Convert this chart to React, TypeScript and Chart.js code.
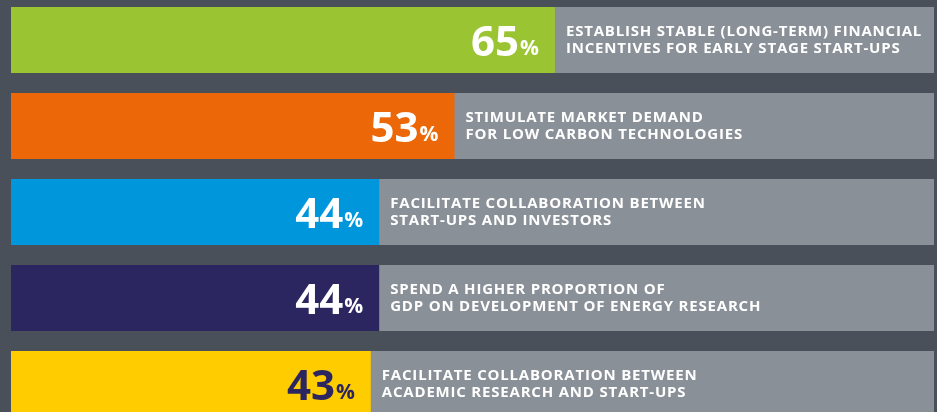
import React, { useEffect, useRef } from "react";
import { Chart, registerables } from "chart.js";

Chart.register(...registerables);

const categories: string[][] = [
  ["ESTABLISH STABLE (LONG-TERM) FINANCIAL", "INCENTIVES FOR EARLY STAGE START-UPS"],
  ["STIMULATE MARKET DEMAND", "FOR LOW CARBON TECHNOLOGIES"],
  ["FACILITATE COLLABORATION BETWEEN", "START-UPS AND INVESTORS"],
  ["SPEND A HIGHER PROPORTION OF", "GDP ON DEVELOPMENT OF ENERGY RESEARCH"],
  ["FACILITATE COLLABORATION BETWEEN", "ACADEMIC RESEARCH AND START-UPS"],
];
const values: number[] = [65, 53, 44, 44, 43];
const barColors: string[] = ["#9bc433", "#ec6707", "#0096db", "#2b2660", "#ffcc00"];
const numberColors: string[] = ["#ffffff", "#ffffff", "#ffffff", "#ffffff", "#2b2660"];
const AXIS_MAX = 110.3;
const track: number[] = [AXIS_MAX, AXIS_MAX, AXIS_MAX, AXIS_MAX, AXIS_MAX];

const BG = "#4a5059";
const TRACK = "#8a9097";

const labelPlugin = {
  id: "labels",
  afterDatasetsDraw(chart: any) {
    const ctx = chart.ctx;
    const meta = chart.getDatasetMeta(0);
    meta.data.forEach((bar: any, i: number) => {
      const xEnd = bar.x;
      const yc = bar.y;
      ctx.save();
      ctx.textBaseline = "alphabetic";
      ctx.fillStyle = numberColors[i];
      ctx.font = "bold 21px 'Open Sans'";
      const pct = "%";
      const pw = ctx.measureText(pct).width;
      ctx.textAlign = "right";
      ctx.fillText(pct, xEnd - 16, yc + 15);
      ctx.font = "bold 42px 'Open Sans'";
      ctx.fillText(String(values[i]), xEnd - 16 - pw - 1, yc + 16);
      ctx.fillStyle = "#ffffff";
      ctx.textAlign = "left";
      ctx.font = "bold 15px 'Open Sans'";
      (ctx as any).letterSpacing = "0.8px";
      const lines = categories[i];
      ctx.fillText(lines[0], xEnd + 11, yc - 4);
      ctx.fillText(lines[1], xEnd + 11, yc + 13);
      ctx.restore();
    });
  },
};

export default function App() {
  const ref = useRef<HTMLCanvasElement | null>(null);
  useEffect(() => {
    if (!ref.current) return;
    const chart = new Chart(ref.current, {
      type: "bar",
      data: {
        labels: categories.map((c) => c.join(" ")),
        datasets: [
          {
            data: values,
            backgroundColor: barColors,
            grouped: false,
            barPercentage: 1,
            categoryPercentage: 66 / 86,
            borderWidth: 0,
          },
          {
            data: track,
            backgroundColor: TRACK,
            grouped: false,
            barPercentage: 1,
            categoryPercentage: 66 / 86,
            borderWidth: 0,
          },
        ],
      },
      options: {
        indexAxis: "y",
        animation: false,
        responsive: false,
        maintainAspectRatio: false,
        layout: { padding: { left: 11, right: 3, top: 0, bottom: 0 } },
        plugins: { legend: { display: false }, tooltip: { enabled: false } },
        scales: {
          x: { min: 0, max: AXIS_MAX, display: false },
          y: { display: false },
        },
      },
      plugins: [labelPlugin],
    });
    return () => chart.destroy();
  }, []);
  return (
    <div
      style={{
        position: "fixed",
        left: 0,
        top: 0,
        width: 937,
        height: 412,
        overflow: "hidden",
        background: BG,
      }}
    >
      <div style={{ position: "absolute", left: 0, top: -3, width: 937, height: 430 }}>
        <canvas ref={ref} width={937} height={430} style={{ display: "block" }} />
      </div>
    </div>
  );
}
